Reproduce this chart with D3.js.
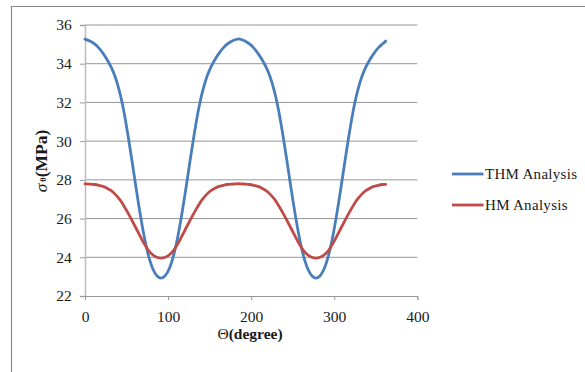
<!DOCTYPE html>
<html><head><meta charset="utf-8">
<script src="https://cdn.jsdelivr.net/npm/d3@7"></script>
<style>
html,body{margin:0;padding:0;background:#fff;}
svg{display:block;}
text{font-family:"Liberation Serif","Times New Roman",serif;fill:#1a1a1a;}
</style></head>
<body>
<svg id="chart" width="585" height="372"></svg>
<script>
// ---- data ----
const xTicks = [0, 100, 200, 300, 400];
const yTicks = [22, 24, 26, 28, 30, 32, 34, 36];
const seriesNames = ["THM Analysis", "HM Analysis"];
const seriesColors = ["#4a7ebb", "#be4b48"];
const theta = [0,6.5,11.5,16.5,21.5,26.5,31.5,36.5,41.5,46.5,51.5,56.5,61.5,66.5,71.5,76.5,81.5,86.5,91.5,
  96.5,101.5,106.5,111.5,116.5,121.5,126.5,131.5,136.5,141.5,146.5,151.5,156.5,161.5,166.5,171.5,176.5,181.5,185,
  188,193,198,203,208,213,218,223,228,233,238,243,248,253,258,263,268,273,278,
  283,288,293,298,303,308,313,318,323,328,333,338,343,348,353,358,362];
const thmVal = [35.27,35.16,35.02,34.82,34.55,34.22,33.82,33.3,32.57,31.6,30.37,29.0,27.57,26.22,25.02,24.07,23.42,23.05,22.92,
  23.05,23.42,24.07,25.02,26.22,27.57,29.0,30.37,31.6,32.57,33.3,33.82,34.22,34.55,34.82,35.02,35.16,35.25,35.28,
  35.25,35.16,35.02,34.82,34.55,34.22,33.82,33.3,32.57,31.6,30.37,29.0,27.57,26.22,25.02,24.07,23.42,23.05,22.92,
  23.05,23.42,24.07,25.02,26.22,27.57,29.0,30.37,31.6,32.57,33.3,33.82,34.22,34.55,34.82,35.02,35.17];
const hmVal = [27.79,27.78,27.76,27.72,27.66,27.57,27.44,27.25,27.0,26.68,26.31,25.91,25.5,25.08,24.68,24.35,24.13,24.0,23.96,
  24.0,24.13,24.35,24.68,25.08,25.5,25.91,26.31,26.68,27.0,27.25,27.44,27.57,27.66,27.72,27.76,27.78,27.79,27.8,
  27.79,27.78,27.76,27.72,27.66,27.57,27.44,27.25,27.0,26.68,26.31,25.91,25.5,25.08,24.68,24.35,24.13,24.0,23.96,
  24.0,24.13,24.35,24.68,25.08,25.5,25.91,26.31,26.68,27.0,27.25,27.44,27.57,27.66,27.72,27.76,27.77];

const svg = d3.select("#chart");
const x = d3.scaleLinear().domain([0, 400]).range([85, 417.3]);
const y = d3.scaleLinear().domain([22, 36]).range([296, 25]);

// outer frame (left + top)
svg.append("path").attr("d", "M11.5,372 L11.5,6.5 L585,6.5")
  .attr("fill", "none").attr("stroke", "#8a8a8a").attr("stroke-width", 1.2);

// gridlines
svg.append("g").selectAll("line").data(yTicks.filter(d => d !== 22)).join("line")
  .attr("x1", x(0)).attr("x2", x(400))
  .attr("y1", d => y(d)).attr("y2", d => y(d))
  .attr("stroke", "#969696").attr("stroke-width", 1);

// y axis
const yAxis = svg.append("g").attr("transform", `translate(${x(0)},0)`)
  .call(d3.axisLeft(y).tickValues(yTicks).tickSize(5).tickPadding(8.3));
yAxis.select(".domain").attr("stroke", "#bcbcbc").attr("stroke-width", 1.5);
yAxis.selectAll(".tick line").attr("stroke", "#9a9a9a");
yAxis.selectAll("text").attr("font-size", 15.5).attr("font-family", "Liberation Serif").attr("fill", "#1a1a1a");

// x axis
const xAxis = svg.append("g").attr("transform", `translate(0,${y(22)})`)
  .call(d3.axisBottom(x).tickValues(xTicks).tickSize(4).tickPadding(11));
xAxis.select(".domain").attr("stroke", "#969696").attr("stroke-width", 1);
xAxis.selectAll(".tick line").attr("stroke", "#969696");
xAxis.selectAll("text").attr("font-size", 15.5).attr("font-family", "Liberation Serif").attr("fill", "#1a1a1a");

// series
const line = d3.line().x(d => x(d[0])).y(d => y(d[1])).curve(d3.curveCatmullRom.alpha(0.5));
const series = [d3.zip(theta, thmVal), d3.zip(theta, hmVal)];
svg.append("g").selectAll("path").data(series).join("path")
  .attr("d", line).attr("fill", "none")
  .attr("stroke", (d, i) => seriesColors[i]).attr("stroke-width", 2.8)
  .attr("stroke-linejoin", "round").attr("stroke-linecap", "round");

// axis titles
const xt = svg.append("text").attr("x", 250).attr("y", 339).attr("text-anchor", "middle").attr("font-size", 15.5);
xt.append("tspan").text("Θ");
xt.append("tspan").attr("font-weight", "bold").text("(degree)");

const yt = svg.append("text").attr("transform", "translate(46.5,161) rotate(-90)")
  .attr("text-anchor", "middle").attr("font-size", 17.5);
yt.append("tspan").attr("font-style", "italic").text("σ");
yt.append("tspan").attr("font-size", 8.5).attr("font-weight", "bold").attr("dx", 2).attr("dy", -1).text("θ");
yt.append("tspan").attr("font-weight", "bold").attr("dy", 1).text("(MPa)");

// legend
const lg = svg.append("g").selectAll("g").data(seriesNames).join("g")
  .attr("transform", (d, i) => `translate(0,${174 + i * 31})`);
lg.append("line").attr("x1", 452).attr("x2", 483.5).attr("y1", 0).attr("y2", 0)
  .attr("stroke", (d, i) => seriesColors[i]).attr("stroke-width", 2.8);
lg.append("text").attr("x", 485).attr("y", 5).attr("font-size", 15).attr("letter-spacing", 0.3).text(d => d);
</script>
</body></html>
